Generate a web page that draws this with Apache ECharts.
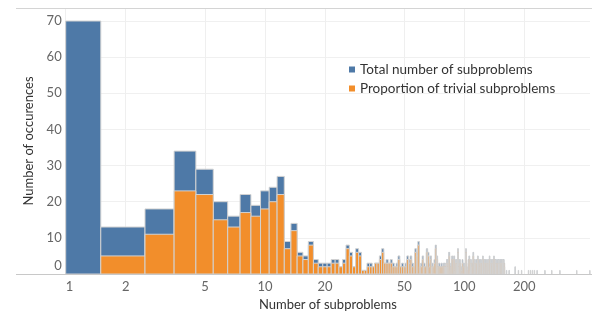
<!DOCTYPE html>
<html>
<head>
<meta charset="utf-8">
<script src="https://cdn.jsdelivr.net/npm/echarts@6/dist/echarts.min.js"></script>
<style>
html,body{margin:0;padding:0;background:#fff;}
#chart{width:592px;height:318px;}
</style>
</head>
<body>
<div id="chart"></div>
<script>
// Number of subproblems (bin centres, each bin is [k-0.5, k+0.5])
const subproblems = [
  1,2,3,4,5,6,7,8,9,10,11,12,13,14,15,16,17,18,19,20,
  21,22,23,24,25,26,27,28,29,30,31,32,33,34,35,36,37,38,39,40,
  41,42,43,44,45,46,47,48,49,50,51,52,53,54,55,56,57,58,59,60,
  61,62,63,64,65,66,67,68,69,70,71,72,73,74,75,76,77,78,79,80,
  81,82,83,84,85,86,87,88,89,90,91,92,93,94,95,96,97,98,99,100,
  101,102,103,104,105,106,107,108,109,110,111,112,113,114,115,116,117,118,119,120,
  121,122,123,124,125,126,127,128,129,130,131,132,133,134,135,136,137,138,139,140,
  141,142,143,144,145,146,147,148,149,150,151,152,153,154,155,156,157,158,159,
  163,168,180,187,194,210,215,220,225,232,254,275,302,367,427
];
// Total number of subproblems (occurrences)
const totalCounts = [
  70,13,18,34,29,20,16,22,19,23,24,27,9,14,6,5,9,4,3,3,
  3,4,4,2,4,8,6,2,7,6,1,1,3,3,2,3,3,5,7,3,
  4,3,4,3,2,3,5,2,3,2,3,5,4,5,3,2,7,6,9,2,
  3,5,3,2,7,6,3,5,3,2,4,8,5,2,3,2,3,2,3,3,
  2,4,3,6,2,3,5,1,5,2,4,1,7,3,4,1,2,4,3,0,
  3,7,2,1,4,5,2,4,1,3,6,2,4,1,4,2,5,1,4,3,
  4,0,4,5,2,4,1,4,3,4,1,4,2,5,4,1,4,3,4,1,
  5,2,4,4,1,4,3,4,4,1,4,4,2,4,4,1,4,4,3,
  1,1,2,1,1,1,1,1,1,1,1,1,1,1,1
];
// Proportion of trivial subproblems (occurrences)
const trivialCounts = [
  0,5,11,23,22,15,13,17,16,18,20,22,7,12,5,4,8,3,2,2,
  2,3,3,2,3,7,5,2,6,5,1,1,2,2,2,3,3,4,6,3,
  3,3,3,2,2,2,4,2,2,2,2,4,3,4,2,2,6,5,8,2,
  2,4,2,2,6,5,2,4,2,2,3,7,4,2,2,2,2,2,2,2,
  2,3,2,5,1,2,4,0,4,1,3,0,6,2,3,0,1,3,2,0,
  2,6,1,0,3,4,1,3,0,2,5,1,3,0,3,1,4,0,3,2,
  3,0,3,4,1,3,0,3,2,3,0,3,1,4,3,0,3,2,3,0,
  4,1,3,3,0,3,2,3,3,0,3,3,1,3,3,0,3,3,2,
  0,0,0,0,0,0,0,0,0,0,0,0,0,0,0
];
const xTickValues = [1,2,5,10,20,50,100,200];
const seriesNames = ['Total number of subproblems','Proportion of trivial subproblems'];

const X_MIN = 1, X_MAX = 427.5, Y_MAX = 73.6;
const BLUE = '#4e79a7', ORANGE = '#f28e2b', EDGE = '#d2d2d2';
const FONT = 'Lato';

function makeRender(color){
  return function(params, api){
    const k = api.value(0), v = api.value(1);
    if (!(v > 0)) return null;
    const lo = Math.max(k - 0.5, X_MIN), hi = Math.min(k + 0.5, X_MAX);
    const p0 = api.coord([lo, 0]);
    const p1 = api.coord([hi, v]);
    return {
      type: 'rect',
      shape: {x: p0[0], y: p1[1], width: p1[0] - p0[0], height: p0[1] - p1[1]},
      style: {fill: color, stroke: EDGE, lineWidth: 1}
    };
  };
}

const totalData = subproblems.map((k, i) => [k, totalCounts[i]]);
const trivialData = subproblems.map((k, i) => [k, trivialCounts[i]]);

const chart = echarts.init(document.getElementById('chart'), null, {renderer: 'canvas'});
chart.setOption({
  animation: false,
  backgroundColor: '#fff',
  textStyle: {fontFamily: FONT},
  grid: {left: 65.7, right: 2, top: 8, bottom: 44, containLabel: false},
  legend: {
    orient: 'vertical',
    left: 344, top: 57.5,
    icon: 'rect', itemWidth: 6, itemHeight: 6, itemGap: 5,
    textStyle: {fontFamily: FONT, fontSize: 13.5, color: '#333', lineHeight: 13},
    data: seriesNames
  },
  xAxis: {
    type: 'log', logBase: 10, min: X_MIN, max: X_MAX,
    name: 'Number of subproblems', nameLocation: 'middle', nameGap: 21,
    nameTextStyle: {fontFamily: FONT, fontSize: 13, color: '#333'},
    axisLine: {show: false},
    axisTick: {show: false, customValues: xTickValues},
    axisLabel: {customValues: xTickValues, fontFamily: FONT, fontSize: 13, color: '#666', margin: 6, alignMinLabel: 'left'},
    splitLine: {show: true, lineStyle: {color: '#efefef', width: 1}}
  },
  yAxis: {
    type: 'value', min: 0, max: Y_MAX, interval: 10,
    name: 'Number of occurences', nameLocation: 'middle', nameGap: 30, nameRotate: 90,
    nameTextStyle: {fontFamily: FONT, fontSize: 13, color: '#333'},
    axisLine: {show: false}, axisTick: {show: false},
    axisLabel: {
      fontFamily: FONT, fontSize: 13, color: '#666', margin: 4,
      formatter: function(v){ if (Math.abs(v % 10) > 1e-6) return ''; return v === 0 ? '{z|0}' : String(v); },
      rich: {z: {fontFamily: FONT, fontSize: 13, color: '#666', padding: [0, 0, 17, 0]}}
    },
    splitLine: {show: true, lineStyle: {color: '#f0f0f0', width: 1}}
  },
  graphic: [
    {type: 'line', z: 100, shape: {x1: 16, y1: 8.5, x2: 592, y2: 8.5}, style: {stroke: '#d4d4d4', lineWidth: 1}},
    {type: 'line', z: 100, shape: {x1: 16, y1: 274.5, x2: 592, y2: 274.5}, style: {stroke: '#c8c8c8', lineWidth: 1}}
  ],
  series: [
    {name: seriesNames[0], type: 'custom', renderItem: makeRender(BLUE), encode: {x: 0, y: 1}, itemStyle: {color: BLUE}, data: totalData, clip: true},
    {name: seriesNames[1], type: 'custom', renderItem: makeRender(ORANGE), encode: {x: 0, y: 1}, itemStyle: {color: ORANGE}, data: trivialData, clip: true}
  ]
});
</script>
</body>
</html>
